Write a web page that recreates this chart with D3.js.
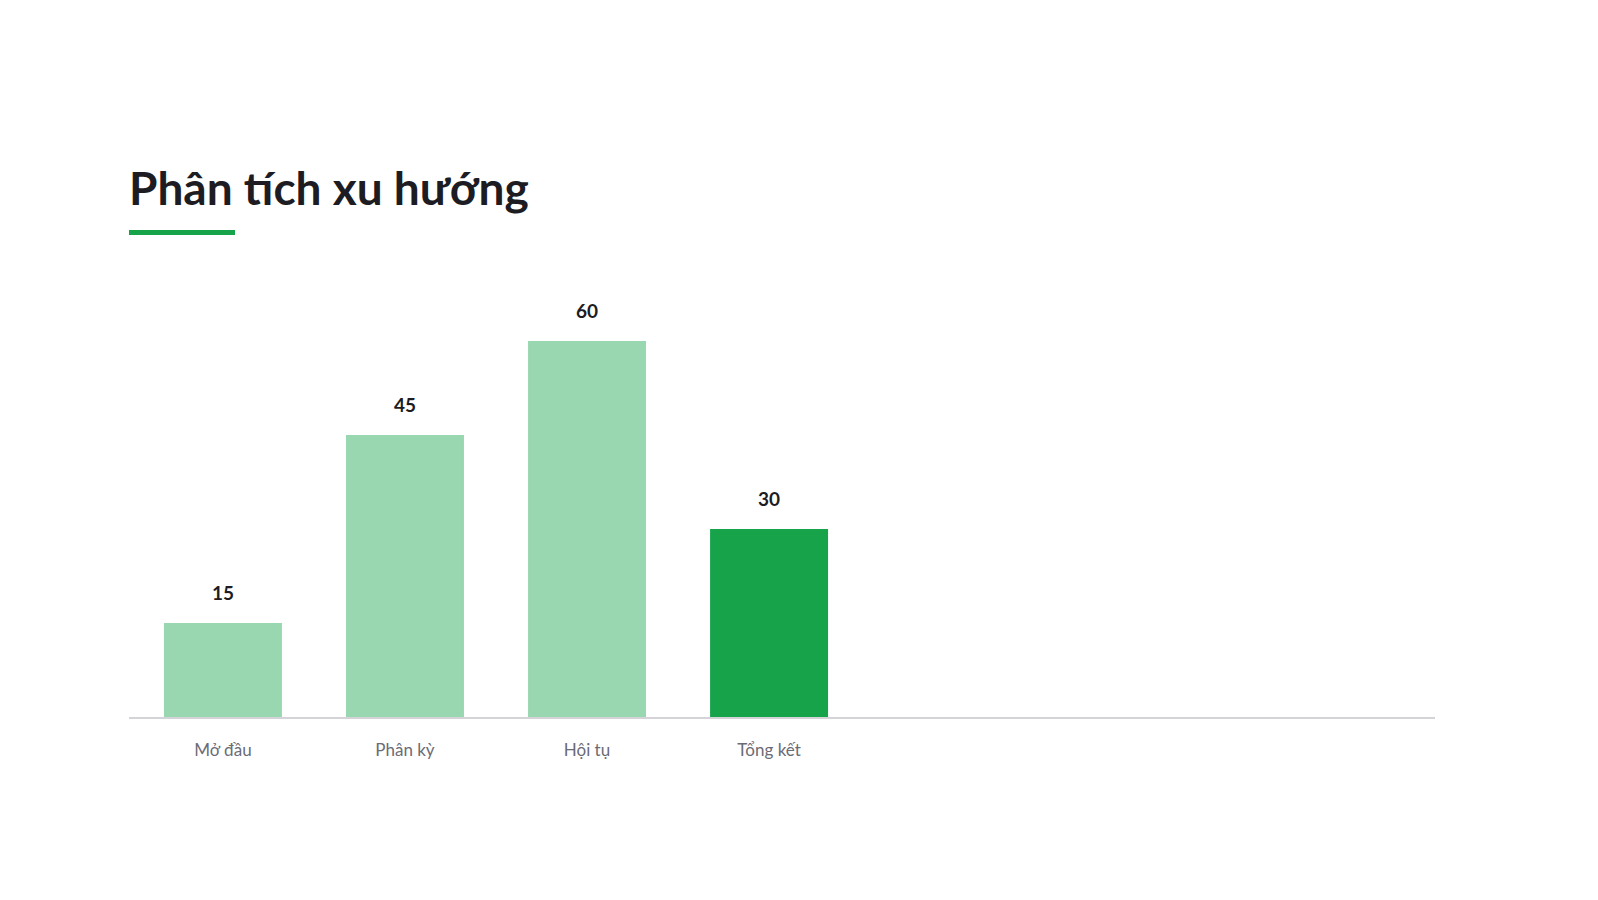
<!DOCTYPE html>
<html><head><meta charset="utf-8">
<script src="https://cdn.jsdelivr.net/npm/d3@7"></script>
<style>body{margin:0;background:#fff;}svg{display:block;font-family:Lato,sans-serif;}</style>
</head><body>
<svg id="c" width="1598" height="900"></svg>
<script>
const categories = ["Mở đầu", "Phân kỳ", "Hội tụ", "Tổng kết"];
const values = [15, 45, 60, 30];
const highlight = ["Tổng kết"];
const title = "Phân tích xu hướng";

const svg = d3.select("#c");
const left = 129, right = 1435, baseY = 717, topY = 341;

svg.append("text").attr("x", left).attr("y", 205)
  .attr("font-size", 46).attr("font-weight", 700).attr("fill", "#1c1c22").text(title);
svg.append("rect").attr("x", left).attr("y", 230).attr("width", 106).attr("height", 5).attr("fill", "#16a34a");

const x = d3.scaleBand().domain(categories).range([left, left + 734]).paddingInner(0.352).paddingOuter(0.192);
const y = d3.scaleLinear().domain([0, d3.max(values)]).range([baseY, topY]);

const data = categories.map((c, i) => ({c, v: values[i]}));

svg.append("g").selectAll("rect").data(data).join("rect")
  .attr("x", d => x(d.c)).attr("width", x.bandwidth())
  .attr("y", d => y(d.v)).attr("height", d => y(0) - y(d.v))
  .attr("fill", "#16a34a").attr("fill-opacity", d => highlight.includes(d.c) ? 1 : 0.44);

svg.append("line").attr("x1", left).attr("x2", right).attr("y1", baseY + 1).attr("y2", baseY + 1)
  .attr("stroke", "#d4d4d8").attr("stroke-width", 2);

svg.append("g").selectAll("text").data(data).join("text")
  .attr("x", d => x(d.c) + x.bandwidth() / 2).attr("y", d => y(d.v) - 23)
  .attr("text-anchor", "middle").attr("font-size", 19).attr("font-weight", 700).attr("fill", "#1c1c22")
  .text(d => d.v);

const xAxis = d3.axisBottom(x).tickSize(0).tickPadding(0);
const ax = svg.append("g").attr("transform", `translate(0,${baseY})`).call(xAxis);
ax.select(".domain").remove();
ax.selectAll("text").attr("y", 39).attr("dy", 0).attr("font-family", "Lato, sans-serif")
  .attr("font-size", 17).attr("fill", "#6b6b76");
</script>
</body></html>
